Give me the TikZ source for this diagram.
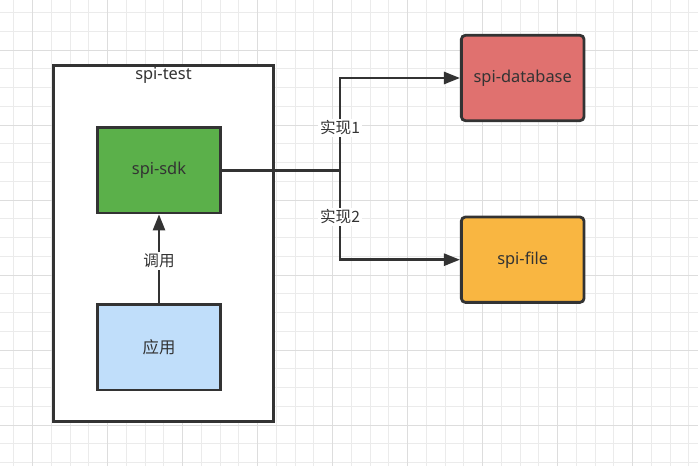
\documentclass[tikz,border=0pt]{standalone}
\usepackage{fontspec}
\setmainfont{Noto Sans}
\newfontfamily\cjk{Noto Sans CJK SC}
\usetikzlibrary{arrows.meta}
\definecolor{ink}{HTML}{333333}
\definecolor{gminor}{HTML}{EBEBEB}
\definecolor{gmajor}{HTML}{DDDDDD}
\definecolor{sdkgreen}{HTML}{5BB04A}
\definecolor{dbred}{HTML}{E0716F}
\definecolor{fileorange}{HTML}{F9B641}
\definecolor{appblue}{HTML}{C0DEFA}
\tikzset{
  gridminor/.style={draw=gminor, line width=0.75pt},
  gridmajor/.style={draw=gmajor, line width=0.75pt},
  box/.style={draw=ink, line width=2.1pt, rectangle, text=ink,
    font=\fontsize{12.3}{14}\selectfont, inner sep=0pt,
    minimum width=92pt, minimum height=64pt},
  rbox/.style={box, rounded corners=3pt},
  conn/.style={draw=ink, line width=1.9pt},
  arr/.style={conn, -{Triangle[length=12pt,width=9pt]}},
  lbl/.style={fill=white, text=ink, inner sep=1.5pt,
    font=\cjk\fontsize{11.7}{13}\selectfont},
}
\begin{document}
\begin{tikzpicture}[x=0.75pt,y=-0.75pt]
\useasboundingbox (0,0) rectangle (698,466);
\fill[white] (0,0) rectangle (698,466);
% grid (snapped to pixel centres)
\foreach \i in {0,...,37} {
  \pgfmathsetmacro\gx{int(13.95+\i*18.75)+0.5}
  \draw[gridminor] (\gx,0) -- (\gx,466);
}
\foreach \i in {0,...,24} {
  \pgfmathsetmacro\gy{int(12.5+\i*18.75)+0.5}
  \draw[gridminor] (0,\gy) -- (698,\gy);
}
\foreach \i in {0,...,8} {
  \pgfmathsetmacro\gx{int(32.7+\i*75)+0.5}
  \draw[gridmajor] (\gx,0) -- (\gx,466);
}
\foreach \i in {0,...,5} {
  \pgfmathsetmacro\gy{int(50+\i*75)+0.5}
  \draw[gridmajor] (0,\gy) -- (698,\gy);
}
% container
\node[box, fill=white, minimum width=165.4pt, minimum height=267.4pt] (test) at (163.5,243.5) {};
\node[text=ink, font=\fontsize{12.3}{14}\selectfont, inner sep=0pt] (testlbl) at (163.5,75) {spi-test};
% boxes
\node[box, fill=sdkgreen] (sdk) at (159,170.3) {spi-sdk};
\node[box, fill=appblue] (app) at (159,347.3) {\cjk 应用};
\node[rbox, fill=dbred] (db) at (522.7,78) {spi-database};
\node[rbox, fill=fileorange] (file) at (522.7,259.7) {spi-file};
% connectors
\coordinate (j) at (340,170.3);
\draw[arr] (app.north) -- node[lbl, pos=0.48] {调用} (sdk.south);
\draw[conn] (sdk.east) -- (j);
\draw[arr] (j) |- node[lbl, pos=0.23] {实现1} (db.west);
\draw[arr] (j) |- node[lbl, pos=0.26] {实现2} (file.west);
\end{tikzpicture}
\end{document}
